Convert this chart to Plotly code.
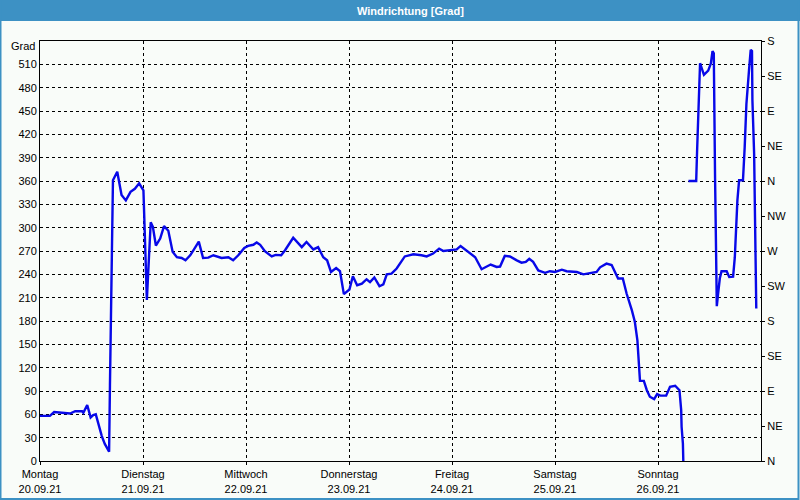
import plotly.graph_objects as go

# ---- data (hours since Monday 20.09.21 00:00, wind direction in degrees, unwrapped) ----
hours_a = [0, 2.3, 3.3, 6.6, 7.0, 8.2, 9.8, 10.1, 11.0, 11.8, 12.4, 13.0, 13.6, 14.4, 15.1, 16.1,
           16.3, 16.5, 16.85, 17.0, 18.0, 19.0, 20.0, 21.1, 22.1, 23.1, 24.1, 24.3, 24.5, 24.9,
           25.2, 25.5, 25.8, 26.3, 27.0, 28.0, 28.9, 29.9, 30.9, 31.9, 33.0, 33.9, 35.0, 36.1,
           37.0, 38.0, 39.2, 40.4, 41.5, 42.3, 43.9, 45.0, 46.2, 47.6, 48.5, 49.7, 50.5, 51.3,
           52.4, 54.0, 54.9, 56.2, 57.1, 59.0, 61.0, 62.1, 63.7, 64.8, 66.0, 66.9, 67.8, 69.0,
           69.9, 70.8, 72.1, 72.9, 73.9, 75.0, 76.1, 76.9, 77.9, 79.1, 80.0, 80.8, 81.9, 83.1,
           85.0, 87.0, 88.9, 90.1, 91.6, 93.0, 94.0, 95.9, 97.1, 98.0, 99.0, 100.2, 101.4, 102.9,
           104.1, 105.0, 106.4, 107.2, 108.3, 109.5, 111.1, 112.2, 113.2, 114.0, 114.9, 116.1,
           117.7, 118.8, 120.0, 121.6, 122.7, 125.1, 126.6, 127.8, 129.7, 130.5, 132.0, 133.2,
           134.7, 135.8, 136.7, 137.9, 138.6, 139.2, 139.6, 139.8, 140.7, 141.4, 142.1, 143.1,
           143.8, 144.5, 145.9, 146.8, 148.0, 149.0, 149.4, 149.5, 149.8, 149.9]
grad_a = [58, 58, 63, 62, 61, 64, 64, 62, 72, 56, 59, 60, 48, 32, 22, 12,
          97, 187, 273, 361, 372, 342, 335, 346, 350, 357, 348, 314, 277, 207,
          241, 271, 307, 301, 277, 286, 302, 296, 269, 262, 261, 258, 264.5, 274,
          282, 261, 261.5, 264.5, 262, 261, 262, 258, 264.5, 274, 276.5, 278, 281, 278,
          269.7, 263, 265, 264.5, 271, 287, 275, 281.6, 272, 275, 262, 258, 243, 248,
          244, 214.5, 220.5, 237.6, 226, 228, 233.7, 230, 236, 224.7, 227, 240, 241, 247.5,
          263, 265.8, 264.5, 263, 266.7, 273, 270, 271, 272, 276.5, 272, 266.7, 262, 246.6,
          249.5, 252.6, 249.5, 250, 263.7, 263, 258, 255, 256, 260, 256, 245,
          242, 244, 243, 246, 244, 243, 240, 241.5, 243, 249, 253.8, 252,
          234.6, 234.6, 215, 194, 179, 155, 121, 103, 103, 91, 82.6, 79.6,
          86, 84, 84, 95.4, 96.7, 91, 65.5, 44, 22.7, 0]

hours_b = [151.1, 152.9, 153.1, 153.3, 153.6, 153.8, 154.7, 155.7, 156.3, 156.7, 157.0, 157.1,
           157.3, 157.5, 157.7, 158.0, 158.4, 158.8, 160.0, 160.6, 161.5, 161.9, 162.1, 162.5,
           162.9, 163.8, 164.2, 164.6, 165.2, 165.6, 165.9, 166.0, 166.4, 166.6, 166.8, 166.9]
grad_b = [360, 360, 397, 436, 474, 511.5, 496.6, 502, 510.7, 527, 524, 444,
          363, 281.6, 199, 215, 234.6, 244, 244, 236.7, 237, 262, 286, 335,
          361, 361, 403.6, 459, 502, 528.7, 527, 463.6, 395, 331, 262, 196]

day_ticks = [0, 24, 48, 72, 96, 120, 144]
day_names = ["Montag", "Dienstag", "Mittwoch", "Donnerstag", "Freitag", "Samstag", "Sonntag"]
day_dates = ["20.09.21", "21.09.21", "22.09.21", "23.09.21", "24.09.21", "25.09.21", "26.09.21"]
grad_ticks = list(range(0, 540, 30))
compass_ticks = list(range(0, 541, 45))
compass_labels = ["N", "NE", "E", "SE", "S", "SW", "W", "NW", "N", "NE", "E", "SE", "S"]

# ---- styling ----
BG = "#F9FCF9"
BAR = "#3D91C4"
LINE = "rgb(8,8,232)"
FONT = "Liberation Sans"

fig = go.Figure()
line_style = dict(color=LINE, width=2.4)
fig.add_trace(go.Scatter(x=hours_a, y=grad_a, mode="lines", line=line_style,
                         showlegend=False, hoverinfo="skip"))
fig.add_trace(go.Scatter(x=hours_b, y=grad_b, mode="lines", line=line_style,
                         showlegend=False, hoverinfo="skip"))
# invisible trace to anchor the compass axis
fig.add_trace(go.Scatter(x=[0], y=[0], yaxis="y2", mode="lines", line=dict(width=0),
                         showlegend=False, hoverinfo="skip"))

fig.update_layout(
    width=800, height=500,
    margin=dict(l=40, r=39, t=41, b=39, pad=0, autoexpand=False),
    paper_bgcolor=BG, plot_bgcolor=BG,
    font=dict(family=FONT, size=11, color="black"),
    xaxis=dict(
        range=[0, 168], tickvals=day_ticks, automargin=False,
        ticktext=[f"{n}<br>{d}" for n, d in zip(day_names, day_dates)],
        showgrid=True, gridcolor="black", gridwidth=1, griddash="3px,3px",
        showline=True, linecolor="black", linewidth=1, mirror=True,
        ticks="outside", ticklen=3, tickcolor="black", zeroline=False,
        tickfont=dict(family=FONT, size=11),
    ),
    yaxis=dict(
        range=[0, 540], tickvals=grad_ticks, automargin=False,
        showgrid=True, gridcolor="black", gridwidth=1, griddash="3px,3px",
        showline=True, linecolor="black", linewidth=1, mirror=True,
        ticks="", zeroline=False, tickfont=dict(family=FONT, size=11),
    ),
    yaxis2=dict(
        range=[0, 540], tickvals=compass_ticks, ticktext=compass_labels, automargin=False,
        overlaying="y", side="right", showgrid=False, zeroline=False,
        showline=True, linecolor="black", linewidth=1,
        ticks="outside", ticklen=3, tickcolor="black",
        tickfont=dict(family=FONT, size=11),
    ),
    shapes=[
        # title bar
        dict(type="rect", xref="paper", yref="paper",
             x0=-40 / 721, x1=760 / 721, y0=(461 - 21) / 420, y1=461 / 420,
             fillcolor=BAR, line=dict(width=0), layer="below"),
        # outer frame
        dict(type="rect", xref="paper", yref="paper",
             x0=-39.5 / 721, x1=758.5 / 721, y0=(461 - 499) / 420, y1=461 / 420,
             fillcolor="rgba(0,0,0,0)", line=dict(color=BAR, width=2)),
    ],
    annotations=[
        dict(text="<b>Windrichtung [Grad]</b>", xref="paper", yref="paper",
             x=(410 - 40) / 721, y=(461 - 10.5) / 420, xanchor="center", yanchor="middle",
             showarrow=False, font=dict(family=FONT, size=11, color="white")),
        dict(text="Grad", xref="paper", yref="y", x=0, y=533, xanchor="right",
             yanchor="middle", xshift=-3, showarrow=False,
             font=dict(family=FONT, size=11, color="black")),
    ],
)

fig.write_html("out.html")
